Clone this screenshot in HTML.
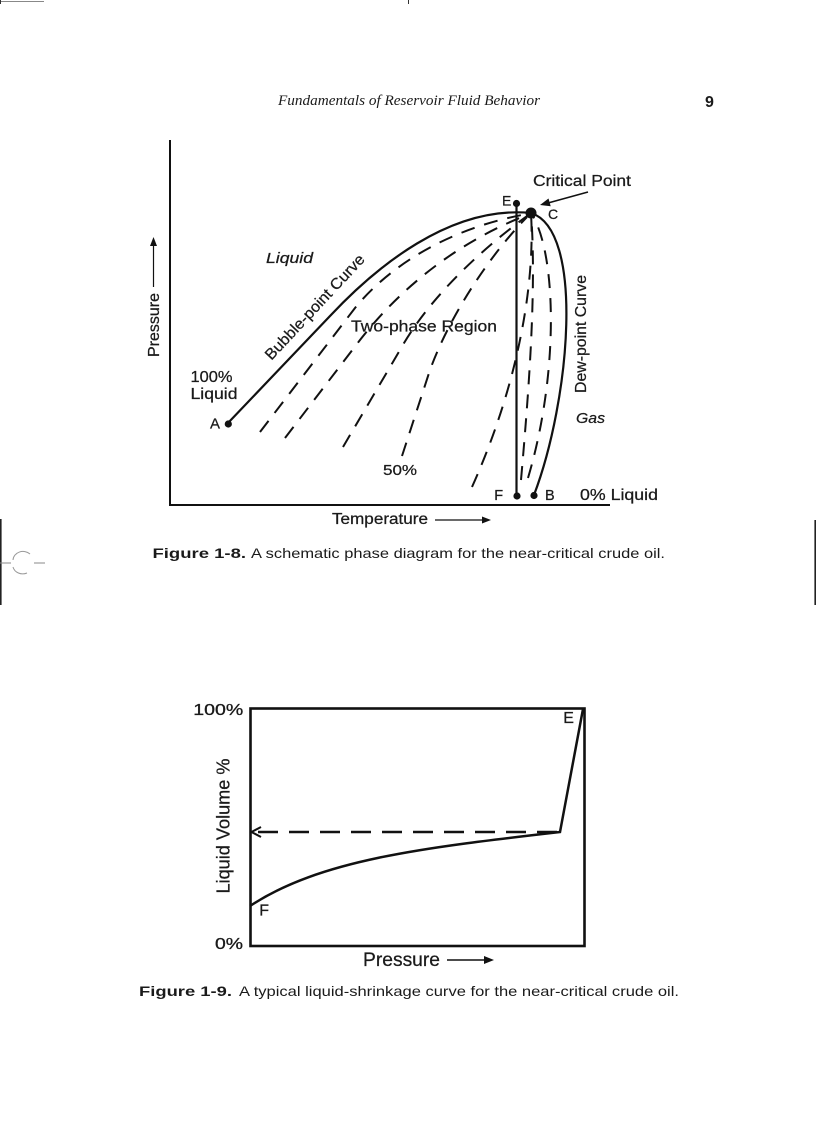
<!DOCTYPE html>
<html><head><meta charset="utf-8">
<style>
html,body{margin:0;padding:0;background:#fff;}
svg{display:block;}
text{font-family:"Liberation Sans",Arial,sans-serif;fill:#1a1a1a;}
.lb{stroke:#1a1a1a;stroke-width:0.25;}
</style></head>
<body>
<svg width="816" height="1123" viewBox="0 0 816 1123" xmlns="http://www.w3.org/2000/svg">
<rect x="0" y="0" width="816" height="1123" fill="#fff"/>
<!-- crop / edge marks -->
<line x1="0" y1="1.5" x2="44" y2="1.5" stroke="#888" stroke-width="1"/>
<line x1="0.5" y1="0" x2="0.5" y2="4" stroke="#333" stroke-width="1"/>
<line x1="408.5" y1="0" x2="408.5" y2="4" stroke="#333" stroke-width="1"/>
<line x1="0.8" y1="519" x2="0.8" y2="605" stroke="#222" stroke-width="1.6"/>
<line x1="0" y1="563" x2="11" y2="563" stroke="#888" stroke-width="1"/>
<line x1="34" y1="563" x2="45" y2="563" stroke="#888" stroke-width="1"/>
<path d="M30,554 A 10 9 0 0 0 13,560 M13,567 A 10 9 0 0 0 27,573" fill="none" stroke="#999" stroke-width="1"/>
<line x1="815.2" y1="520" x2="815.2" y2="605" stroke="#222" stroke-width="1.6"/>

<!-- header -->
<text x="278" y="105" style="font-family:'Liberation Serif',serif" font-style="italic" font-size="15" textLength="262" lengthAdjust="spacingAndGlyphs">Fundamentals of Reservoir Fluid Behavior</text>
<text x="705" y="107" font-weight="bold" font-size="16">9</text>

<!-- ============ Figure 1-8 ============ -->
<g fill="none" stroke="#111" stroke-linecap="butt">
  <path d="M170,140 L170,505 L610,505" stroke-width="2"/>
  <!-- bubble point curve -->
  <path d="M228,423 L330,316 C375,268 450,205 531,213" stroke-width="2.2"/>
  <!-- dew point curve -->
  <path d="M531,213 C585,230 570,400 534,495" stroke-width="2.2"/>
  <!-- vertical E-F -->
  <path d="M516.5,204 L516.5,497" stroke-width="2.2"/>
  <!-- dashed quality lines -->
  <g stroke-width="2" stroke-dasharray="14 10">
    <path d="M260,432 L355,308 C390,265 450,228 527,214"/>
    <path d="M285,438 L360,340 C395,295 450,245 527,215"/>
    <path d="M343,447 L400,350 C425,305 470,258 527,216"/>
    <path d="M402,456 L430,370 C450,315 490,255 527,217"/>
    <path d="M472,487 C520,380 535,280 531,213"/>
    <path d="M521,480 C528,400 537,290 531,213"/>
    <path d="M528,478 C560,370 556,250 531,213"/>
  </g>
  <!-- critical point arrow -->
  <line x1="588" y1="192" x2="548" y2="203" stroke-width="1.6"/>
  <!-- pressure arrow -->
  <line x1="153.5" y1="287" x2="153.5" y2="244" stroke-width="1.2"/>
  <!-- temperature arrow -->
  <line x1="435" y1="520" x2="484" y2="520" stroke-width="1.2"/>
</g>
<polygon points="540,205 550.7,206.2 548.5,198.5" fill="#111"/>
<polygon points="153.5,237 150,246 157,246" fill="#111"/>
<polygon points="491,520 482,516.5 482,523.5" fill="#111"/>
<!-- dots -->
<g fill="#111">
  <circle cx="228.3" cy="424" r="3.6"/>
  <circle cx="516.5" cy="203.5" r="3.6"/>
  <circle cx="531" cy="213" r="5.5"/>
  <circle cx="517" cy="496" r="3.6"/>
  <circle cx="534" cy="495.5" r="3.6"/>
</g>
<!-- labels -->
<g class="lb">
<text x="533" y="186" font-size="15.5" textLength="98" lengthAdjust="spacingAndGlyphs">Critical Point</text>
<text x="502" y="205.5" font-size="14">E</text>
<text x="548" y="219" font-size="14">C</text>
<text x="266" y="263" font-size="15" font-style="italic" textLength="47" lengthAdjust="spacingAndGlyphs">Liquid</text>
<text transform="translate(318.5,310.5) rotate(-46.9)" text-anchor="middle" font-size="15.5" textLength="138" lengthAdjust="spacingAndGlyphs">Bubble-point Curve</text>
<text x="351" y="331.5" font-size="15.5" textLength="146" lengthAdjust="spacingAndGlyphs">Two-phase Region</text>
<text x="190.5" y="382" font-size="15.5" textLength="42" lengthAdjust="spacingAndGlyphs">100%</text>
<text x="190.5" y="399" font-size="15.5" textLength="47" lengthAdjust="spacingAndGlyphs">Liquid</text>
<text x="210" y="428.5" font-size="15">A</text>
<text x="383" y="475" font-size="15" textLength="34" lengthAdjust="spacingAndGlyphs">50%</text>
<text transform="translate(586,334) rotate(-90)" text-anchor="middle" font-size="16" textLength="118" lengthAdjust="spacingAndGlyphs">Dew-point Curve</text>
<text x="576" y="423" font-size="15" font-style="italic" textLength="29" lengthAdjust="spacingAndGlyphs">Gas</text>
<text x="494.3" y="500" font-size="14.5">F</text>
<text x="545" y="500" font-size="14.5">B</text>
<text x="580" y="500" font-size="15.5" textLength="78" lengthAdjust="spacingAndGlyphs">0% Liquid</text>
<text transform="translate(159,357) rotate(-90)" font-size="15.5" textLength="64" lengthAdjust="spacingAndGlyphs">Pressure</text>
<text x="332" y="524" font-size="15.5" textLength="96" lengthAdjust="spacingAndGlyphs">Temperature</text>
</g>

<!-- caption 1-8 -->
<text x="152.5" y="558" font-size="14" font-weight="bold" textLength="93.5" lengthAdjust="spacingAndGlyphs">Figure 1-8.</text>
<text x="251" y="558" font-size="14" textLength="414" lengthAdjust="spacingAndGlyphs">A schematic phase diagram for the near-critical crude oil.</text>

<!-- ============ Figure 1-9 ============ -->
<g fill="none" stroke="#111">
  <rect x="250.5" y="708.5" width="334" height="237.5" stroke-width="2.6"/>
  <line x1="258" y1="832" x2="560" y2="832" stroke-width="2.4" stroke-dasharray="20 11"/>
  <polyline points="261,827 251.5,832 261,837" stroke-width="2"/>
  <path d="M250,906 C320,860 420,848 560,832 L583,709" stroke-width="2.5"/>
  <line x1="447" y1="960" x2="487" y2="960" stroke-width="1.4"/>
</g>
<polygon points="494,960 484,956 484,964" fill="#111"/>
<text x="193.3" y="715" font-size="16" stroke="#1a1a1a" stroke-width="0.3" textLength="50" lengthAdjust="spacingAndGlyphs">100%</text>
<text x="215" y="949" font-size="16" stroke="#1a1a1a" stroke-width="0.3" textLength="28" lengthAdjust="spacingAndGlyphs">0%</text>
<g class="lb">
<text transform="translate(229.5,826) rotate(-90)" text-anchor="middle" font-size="18" textLength="135" lengthAdjust="spacingAndGlyphs">Liquid Volume %</text>
<text x="363" y="966" font-size="19" textLength="77" lengthAdjust="spacingAndGlyphs">Pressure</text>
<text x="563.3" y="723" font-size="16">E</text>
<text x="259.3" y="915.5" font-size="16">F</text>
</g>

<!-- caption 1-9 -->
<text x="139" y="996" font-size="14" font-weight="bold" textLength="93" lengthAdjust="spacingAndGlyphs">Figure 1-9.</text>
<text x="239" y="996" font-size="14" textLength="440" lengthAdjust="spacingAndGlyphs">A typical liquid-shrinkage curve for the near-critical crude oil.</text>
</svg>
</body></html>
